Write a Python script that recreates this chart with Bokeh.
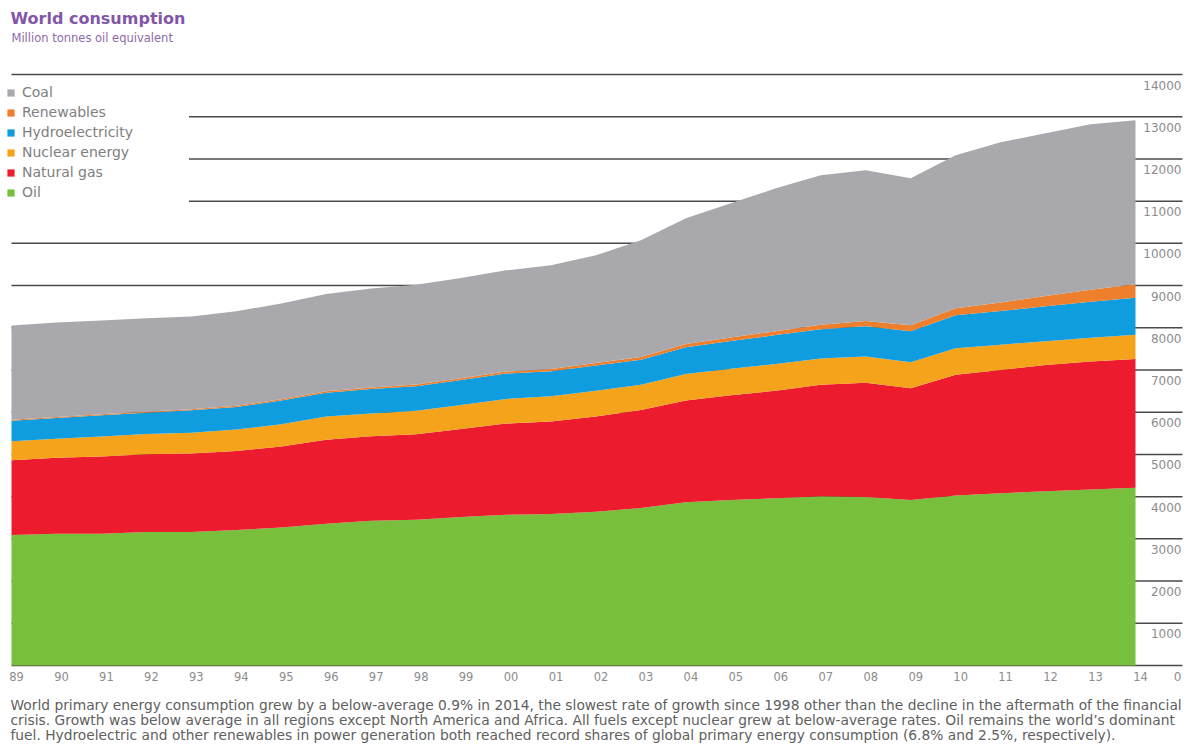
from bokeh.plotting import figure
from bokeh.models import ColumnDataSource, Legend, LegendItem, Range1d
from bokeh.core.properties import value
from bokeh.embed import file_html
from bokeh.resources import INLINE

# ---------------- data (million tonnes oil equivalent) ----------------
years = list(range(1989, 2015))
year_labels = ["89", "90", "91", "92", "93", "94", "95", "96", "97", "98", "99", "00", "01",
               "02", "03", "04", "05", "06", "07", "08", "09", "10", "11", "12", "13", "14"]
oil = [3090, 3120, 3120, 3160, 3160, 3210, 3270, 3360, 3430, 3450, 3520, 3570, 3590,
       3640, 3730, 3870, 3920, 3960, 4010, 3990, 3920, 4030, 4080, 4130, 4170, 4210]
natural_gas = [1775, 1800, 1830, 1845, 1860, 1870, 1920, 1990, 2000, 2030, 2080, 2160, 2190,
               2260, 2320, 2410, 2480, 2550, 2640, 2710, 2650, 2860, 2920, 2990, 3030, 3050]
nuclear = [450, 453, 475, 481, 495, 508, 526, 546, 542, 555, 571, 584, 601,
           611, 598, 625, 627, 635, 622, 619, 614, 626, 600, 560, 563, 574]
hydro = [484, 491, 502, 500, 530, 533, 562, 566, 578, 582, 590, 601, 589,
         594, 597, 636, 658, 683, 696, 718, 736, 781, 795, 831, 856, 879]
renewables = [20, 22, 24, 26, 28, 30, 32, 34, 36, 38, 42, 48, 52,
              58, 64, 72, 82, 92, 104, 122, 140, 168, 205, 240, 280, 316]
coal = [2238, 2242, 2224, 2211, 2197, 2238, 2268, 2304, 2344, 2365, 2377, 2397, 2457,
        2553, 2762, 2979, 3181, 3383, 3539, 3571, 3480, 3620, 3793, 3856, 3921, 3886]
y_ticks = [0, 1000, 2000, 3000, 4000, 5000, 6000, 7000, 8000, 9000, 10000, 11000, 12000, 13000, 14000]
series_names = ["Oil", "Natural gas", "Nuclear energy", "Hydroelectricity", "Renewables", "Coal"]
series_colors = ["#77bf3d", "#ec1b2e", "#f6a31c", "#0f9ddf", "#ee7f2d", "#a9a9ad"]

title_text = "World consumption"
subtitle_text = "Million tonnes oil equivalent"
caption_lines = [
    "World primary energy consumption grew by a below-average 0.9% in 2014, the slowest rate of growth since 1998 other than the decline in the aftermath of the financial",
    "crisis. Growth was below average in all regions except North America and Africa. All fuels except nuclear grew at below-average rates. Oil remains the world\u2019s dominant",
    "fuel. Hydroelectric and other renewables in power generation both reached record shares of global primary energy consumption (6.8% and 2.5%, respectively).",
]

FONT = "DejaVu Sans"

# ---------------- layout helpers (pixels -> data) ----------------
W, H = 1192, 755
PX_X0 = 11.0            # pixel of first year
PX_PER_YEAR = 44.96
PX_Y0 = 665.0           # pixel (from top) of value 0
PX_PER_UNIT = 591.0 / 14000.0

def xpx(px):
    return years[0] + (px - PX_X0) / PX_PER_YEAR

def ypx(py):
    return (PX_Y0 - py) / PX_PER_UNIT

p = figure(width=W, height=H, output_backend="svg", toolbar_location=None,
           x_range=Range1d(xpx(0), xpx(W)), y_range=Range1d(ypx(H), ypx(0)),
           min_border=0, x_axis_location=None, y_axis_location=None)
p.outline_line_color = None
p.grid.visible = False
p.background_fill_color = "white"
p.border_fill_color = "white"

# grid lines (behind areas)
p.segment(x0=[years[0]] * len(y_ticks), x1=[xpx(1182)] * len(y_ticks),
          y0=y_ticks, y1=y_ticks, line_color="#4a4a4a", line_width=1.5)

source = ColumnDataSource(dict(year=years, **{
    "Oil": oil, "Natural gas": natural_gas, "Nuclear energy": nuclear,
    "Hydroelectricity": hydro, "Renewables": renewables, "Coal": coal}))
rends = p.varea_stack(stackers=series_names, x="year", color=series_colors, source=source)

# y tick labels (right, just below each line)
p.text(x=[xpx(1181)] * len(y_ticks), y=y_ticks, text=[str(t) for t in y_ticks],
       text_align="right", text_baseline="top", y_offset=6,
       text_font=value(FONT), text_font_size="12px", text_color="#8c8c8c")

# x tick labels
p.text(x=years, y=[0] * len(years), text=year_labels,
       text_align="center", text_baseline="top", y_offset=6, x_offset=5,
       text_font=value(FONT), text_font_size="11.5px", text_color="#8c8c8c")

# title / subtitle
p.text(x=[xpx(10)], y=[ypx(18)], text=[title_text], text_align="left", text_baseline="middle",
       text_font=value(FONT), text_font_style="bold", text_font_size="16px",
       text_color="#8356a8")
p.text(x=[xpx(11)], y=[ypx(37)], text=[subtitle_text], text_align="left", text_baseline="middle",
       text_font=value(FONT), text_font_size="11.5px", text_color="#8d6aaa")

# caption
p.text(x=[xpx(10)] * 3, y=[ypx(704), ypx(719), ypx(734)], text=caption_lines,
       text_align="left", text_baseline="middle",
       text_font=value(FONT), text_font_size="13.8px", text_color="#606060")

# legend (Coal on top)
items = [LegendItem(label=n, renderers=[r]) for n, r in zip(series_names, rends)][::-1]
legend = Legend(items=items, location=(6, H - 202), orientation="vertical",
                padding=2, margin=0, spacing=0, glyph_width=9, glyph_height=9,
                label_height=20, label_width=167, label_standoff=7,
                label_text_font=FONT, label_text_font_size="14px",
                label_text_color="#808080", border_line_color=None,
                background_fill_color="white", background_fill_alpha=1.0)
p.add_layout(legend)

open("out.html", "w").write(file_html(p, INLINE))
